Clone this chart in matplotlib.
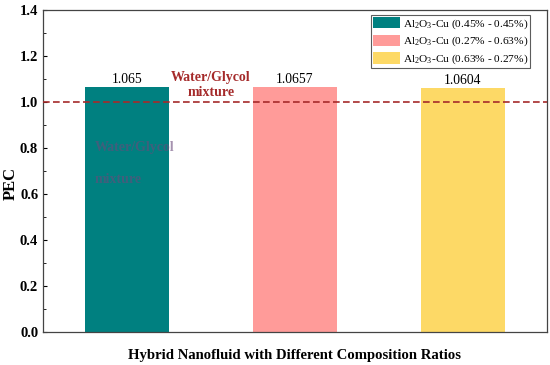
import matplotlib
matplotlib.use("Agg")
import matplotlib.pyplot as plt
import numpy as np

labels = ["Al$_2$O$_3$-Cu (0.45% - 0.45%)",
          "Al$_2$O$_3$-Cu (0.27% - 0.63%)",
          "Al$_2$O$_3$-Cu (0.63% - 0.27%)"]
values = [1.065, 1.0657, 1.0604]
value_text = ["1.065", "1.0657", "1.0604"]
colors = ["#008080", "#FF9B99", "#FDD966"]
baseline = 1.0

plt.rcParams['font.family'] = ['Liberation Serif', 'DejaVu Serif']
plt.rcParams['mathtext.fontset'] = 'custom'
plt.rcParams['mathtext.rm'] = 'Liberation Serif'
plt.rcParams['mathtext.it'] = 'Liberation Serif:italic'
plt.rcParams['mathtext.bf'] = 'Liberation Serif:bold'

fig = plt.figure(figsize=(5.5, 3.65), dpi=100)
ax = fig.add_axes([43/550, 1-332/365, 504/550, 322/365])

x = np.arange(len(values))
bars = ax.bar(x, values, width=0.5, color=colors, label=labels, zorder=2)
for xi, v, t in zip(x, values, value_text):
    ax.text(xi, v + 0.006, t, ha='center', va='bottom', fontsize=9.8, zorder=3)

ax.axhline(baseline, color='#A52A2A', ls='--', lw=1.2, dashes=(4, 2), zorder=3)
ax.text(0.5, baseline + 0.012, "Water/Glycol\nmixture", ha='center', va='bottom',
        fontsize=10, fontweight='bold', color='#A52A2A', linespacing=1.2, zorder=3)
# faint ghost text inside the first bar
ax.text(-0.19, 0.80, "Water/Glycol", ha='left', va='center', fontsize=10,
        fontweight='bold', color='#6a4a7a', alpha=0.6, zorder=3)
ax.text(-0.19, 0.665, "mixture", ha='left', va='center', fontsize=10,
        fontweight='bold', color='#6a4a7a', alpha=0.6, zorder=3)

ax.set_xlim(-0.5, 2.5)
ax.set_ylim(0, 1.4)
ax.set_yticks(np.arange(0, 1.41, 0.2))
ax.set_yticks(np.arange(0, 1.41, 0.1), minor=True)
ax.set_xticks([])
ax.tick_params(axis='y', which='both', direction='in', labelsize=10.5, length=3)
ax.tick_params(axis='y', which='minor', length=2)
for lab in ax.get_yticklabels():
    lab.set_fontweight('bold')
for s in ax.spines.values():
    s.set_color('#444444')
    s.set_linewidth(0.9)

ax.set_ylabel("PEC", fontsize=12, fontweight='bold')
ax.yaxis.set_label_coords(-0.048, 0.46)
ax.set_xlabel("Hybrid Nanofluid with Different Composition Ratios", fontsize=10.6,
              fontweight='bold', labelpad=12)

leg = ax.legend(loc='upper right', fontsize=8.2, frameon=True, fancybox=False,
                edgecolor='#333333', handlelength=2.4, handleheight=1.15,
                borderpad=0.15, labelspacing=0.35, handletextpad=0.25,
                borderaxespad=0.0, bbox_to_anchor=(0.966, 0.984))
leg.get_frame().set_linewidth(0.8)

fig.savefig("out.png", dpi=100)
